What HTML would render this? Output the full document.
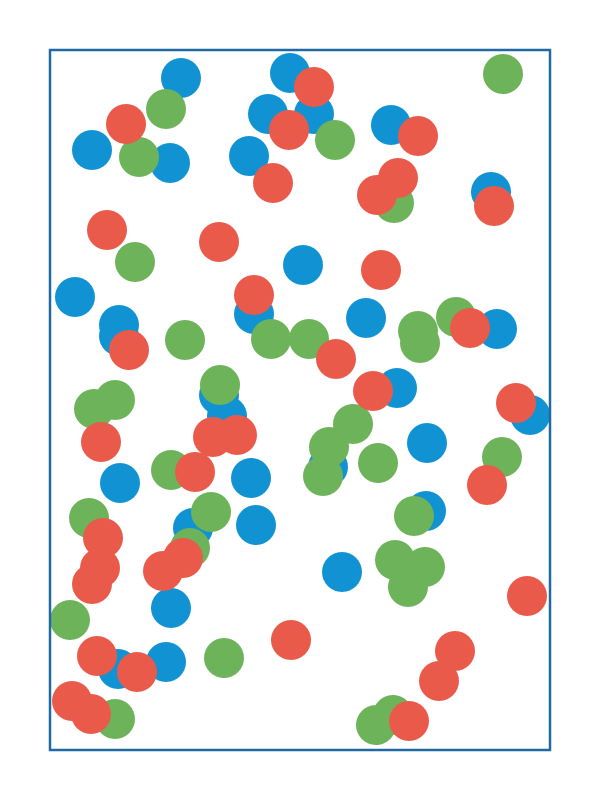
<!DOCTYPE html>
<html><head><meta charset="utf-8"><style>
html,body{margin:0;padding:0;background:#fff;}
svg{display:block;}
</style></head><body>
<svg id="chart" width="600" height="800">
  <g id="points"></g>
  <rect x="50" y="50" width="500" height="700" fill="none" stroke="#1f6aa5" stroke-width="2.5"/>
</svg>
<script>
// data in plot units: x 0..500, y 0..700 (y up)
const blueX=[131,240,218,264,42,120,199,341,441,253,25,69,69,204,316,447,347,169,177,480,377,70,201,278,143,206,376,292,121,68,116];
const blueY=[672,677,636,636,600,587,594,625,558,485,453,425,414,436,432,421,362,355,334,335,307,267,272,283,222,225,239,178,142,81,88];
const redX=[264,76,239,368,223,348,327,444,57,169,331,204,79,420,286,323,466,51,163,187,145,437,53,50,42,113,133,477,241,47,87,405,389,22,41,359];
const redY=[663,626,620,614,567,572,555,544,520,508,480,455,400,422,391,359,347,308,313,315,278,265,212,182,166,179,192,154,110,94,78,99,69,49,36,29];
const greenX=[453,116,285,89,344,85,406,368,370,135,221,259,170,65,44,303,279,273,328,452,121,161,364,39,140,345,375,358,20,174,65,326,343];
const greenY=[676,641,610,593,547,488,433,419,407,410,411,411,365,350,341,326,303,274,287,293,280,238,234,232,202,190,183,163,130,92,31,25,35];

const X0=50,Y0=750;
function sx(v){return X0+v;}
function sy(v){return Y0-v;}
const g=document.getElementById('points');
function draw(xs,ys,color,name){
  for(let i=0;i<xs.length;i++){
    const c=document.createElementNS('http://www.w3.org/2000/svg','circle');
    c.setAttribute('cx',sx(xs[i]));
    c.setAttribute('cy',sy(ys[i]));
    c.setAttribute('r',20);
    c.setAttribute('fill',color);
    
    
    g.appendChild(c);
  }
}
draw(blueX,blueY,'#1193d3','point-blue');
draw(greenX,greenY,'#6db35a','point-green');
draw(redX,redY,'#ea5a4b','point-red');
</script>
</body></html>
